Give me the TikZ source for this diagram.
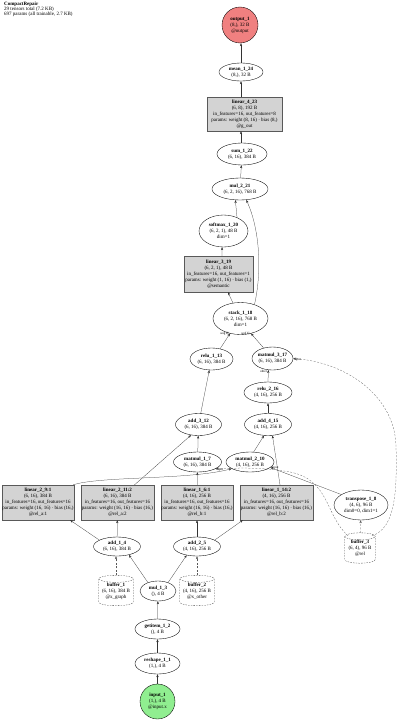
\documentclass[tikz,border=0pt]{standalone}
\usepackage{fontspec}
\setmainfont{Liberation Serif}
\usetikzlibrary{shapes.geometric,arrows.meta,calc}
\newcommand{\zl}[1]{\makebox[0pt][c]{#1}}
\definecolor{lcoral}{RGB}{240,128,128}
\definecolor{lgreen}{RGB}{144,238,144}
\definecolor{lgray}{RGB}{211,211,211}
\tikzset{
 base/.style={draw=black, line width=0.35pt, inner sep=0pt, align=center, font=\fontsize{5}{6}\selectfont},
 op/.style={base, ellipse, fill=white},
 io/.style={base, circle, minimum size=36pt},
 modbox/.style={base, rectangle, fill=lgray, draw=black!65, minimum width=73pt, minimum height=35pt},
 buf/.style={base, rectangle, draw=none, text depth=0pt},
 bufline/.style={line width=0.3pt, draw=black!75, dash pattern=on 1.5pt off 1.2pt},
 e/.style={-{Stealth[length=3pt,width=2.2pt]}, line width=0.25pt, draw=black!80},
 de/.style={e, draw=black!65, dash pattern=on 2pt off 1.5pt},
 el/.style={font=\fontsize{3.3}{3.5}\selectfont, inner sep=0.3pt},
}
\newcommand{\cylbuf}[1]{%
 \draw[bufline] let \p1=(#1.north west), \p2=(#1.south east), \n1={(\x2-\x1)/2} in
 (\x1,\y1-3.5pt) -- (\x1,\y2+3.5pt)
 arc[start angle=180, end angle=360, x radius=\n1, y radius=3.5pt]
 -- (\x2,\y1-3.5pt)
 arc[start angle=0, end angle=360, x radius=\n1, y radius=3.5pt];}
\begin{document}
\begin{tikzpicture}[x=1pt,y=-1pt]
\useasboundingbox (0,0) rectangle (400,720);
\node[anchor=north west, align=left, inner sep=0pt, font=\fontsize{5}{4.9}\selectfont] (title) at (4,2)
 {\textbf{CompactRepair}\\29 tensors total (7.2 KB)\\697 params (all trainable, 2.7 KB)};

% nodes
\node[io, fill=lcoral] (out) at (240,25) {\zl{\textbf{output\_1}}\\\zl{(8,), 32 B}\\\zl{@output}};
\node[op, minimum width=44pt, minimum height=18pt] (mean) at (241,72) {\zl{\textbf{mean\_1\_24}}\\\zl{(8,), 32 B}};
\node[modbox, minimum width=75pt, minimum height=34pt] (lin423) at (244.5,114) {\zl{\textbf{linear\_4\_23}}\\\zl{(6, 8), 192 B}\\\zl{in\_features=16, out\_features=8}\\\zl{params: weight (8, 16) · bias (8,)}\\\zl{@g\_out}};
\node[op, minimum width=50pt, minimum height=22pt] (sum) at (242,154) {\zl{\textbf{sum\_1\_22}}\\\zl{(6, 16), 384 B}};
\node[op, minimum width=56pt, minimum height=22pt] (mul221) at (240,189) {\zl{\textbf{mul\_2\_21}}\\\zl{(6, 2, 16), 768 B}};
\node[op, minimum width=49pt, minimum height=32pt] (soft) at (223.5,231) {\zl{\textbf{softmax\_1\_20}}\\\zl{(6, 2, 1), 48 B}\\\zl{dim=1}};
\node[modbox, minimum width=69pt, minimum height=36pt] (lin319) at (218.5,274) {\zl{\textbf{linear\_3\_19}}\\\zl{(6, 2, 1), 48 B}\\\zl{in\_features=16, out\_features=1}\\\zl{params: weight (1, 16) · bias (1,)}\\\zl{@semantic}};
\node[op, minimum width=55pt, minimum height=32pt] (stack) at (240.5,318.5) {\zl{\textbf{stack\_1\_18}}\\\zl{(6, 2, 16), 768 B}\\\zl{dim=1}};
\node[op, minimum width=43pt, minimum height=22pt] (relu113) at (211.5,359) {\zl{\textbf{relu\_1\_13}}\\\zl{(6, 16), 384 B}};
\node[op, minimum width=41pt, minimum height=23pt] (mm317) at (272.5,358.5) {\zl{\textbf{matmul\_3\_17}}\\\zl{(6, 16), 384 B}};
\node[op, minimum width=48pt, minimum height=21pt] (relu216) at (268,392.5) {\zl{\textbf{relu\_2\_16}}\\\zl{(4, 16), 256 B}};
\node[op, minimum width=47pt, minimum height=22pt] (add415) at (268,424.5) {\zl{\textbf{add\_4\_15}}\\\zl{(4, 16), 256 B}};
\node[op, minimum width=46pt, minimum height=22pt] (add312) at (198.5,424.5) {\zl{\textbf{add\_3\_12}}\\\zl{(6, 16), 384 B}};
\node[op, minimum width=48pt, minimum height=20pt] (mm17) at (197.5,462) {\zl{\textbf{matmul\_1\_7}}\\\zl{(6, 16), 384 B}};
\node[op, minimum width=48pt, minimum height=20pt] (mm210) at (250,462) {\zl{\textbf{matmul\_2\_10}}\\\zl{(4, 16), 256 B}};
\node[modbox, minimum width=72pt] (lin29) at (38,502.5) {\zl{\textbf{linear\_2\_9:1}}\\\zl{(6, 16), 384 B}\\\zl{in\_features=16, out\_features=16}\\\zl{params: weight (16, 16) · bias (16,)}\\\zl{@rel\_a:1}};
\node[modbox] (lin211) at (117.5,502.5) {\zl{\textbf{linear\_2\_11:2}}\\\zl{(6, 16), 384 B}\\\zl{in\_features=16, out\_features=16}\\\zl{params: weight (16, 16) · bias (16,)}\\\zl{@rel\_a:2}};
\node[modbox, minimum width=72pt] (lin16) at (197,502.5) {\zl{\textbf{linear\_1\_6:1}}\\\zl{(4, 16), 256 B}\\\zl{in\_features=16, out\_features=16}\\\zl{params: weight (16, 16) · bias (16,)}\\\zl{@rel\_b:1}};
\node[modbox] (lin114) at (276.5,502.5) {\zl{\textbf{linear\_1\_14:2}}\\\zl{(4, 16), 256 B}\\\zl{in\_features=16, out\_features=16}\\\zl{params: weight (16, 16) · bias (16,)}\\\zl{@rel\_b:2}};
\node[op, minimum width=54pt, minimum height=30pt] (tr18) at (361,505) {\zl{\textbf{transpose\_1\_8}}\\\zl{(4, 6), 96 B}\\\zl{dim0=0, dim1=1}};
\node[buf, minimum width=30pt, minimum height=30pt] (buf3) at (360,548) {\zl{\textbf{buffer\_3}}\\\zl{(6, 4), 96 B}\\\zl{@rel}};
\node[op, minimum width=47pt, minimum height=19pt] (add14) at (117,546.5) {\zl{\textbf{add\_1\_4}}\\\zl{(6, 16), 384 B}};
\node[op, minimum width=47pt, minimum height=19pt] (add25) at (197,546.5) {\zl{\textbf{add\_2\_5}}\\\zl{(4, 16), 256 B}};
\node[buf, minimum width=34pt, minimum height=30pt] (buf1) at (116,590.5) {\zl{\textbf{buffer\_1}}\\\zl{(6, 16), 384 B}\\\zl{@x\_graph}};
\node[buf, minimum width=34pt, minimum height=30pt] (buf2) at (197,590.5) {\zl{\textbf{buffer\_2}}\\\zl{(4, 16), 256 B}\\\zl{@x\_other}};
\node[op, minimum width=36pt, minimum height=20pt] (mul13) at (158,591) {\zl{\textbf{mul\_1\_3}}\\\zl{(), 4 B}};
\node[op, minimum width=45pt, minimum height=20pt] (getitem) at (157.5,629) {\zl{\textbf{getitem\_1\_2}}\\\zl{(), 4 B}};
\node[op, minimum width=45pt, minimum height=21pt] (reshape) at (157.5,663.5) {\zl{\textbf{reshape\_1\_1}}\\\zl{(1,), 4 B}};
\node[io, fill=lgreen, minimum size=35pt] (inp) at (157.5,701.5) {\zl{\textbf{input\_1}}\\\zl{(1,), 4 B}\\\zl{@input.x}};
\cylbuf{buf1}
\cylbuf{buf2}
\cylbuf{buf3}

% edges
\draw[e] (inp) -- (reshape);
\draw[e] (reshape) -- (getitem);
\draw[e] (getitem) -- (mul13);
\draw[e] (mul13.140) -- (add14.-35);
\draw[e] (mul13.40) -- (add25.-140);
\draw[de] (buf1.north) -- (buf1.north |- add14.south);
\draw[de] (buf2) -- (add25);
\draw[e] (add14.160) -- ($(lin29.south east)+(-4,0)$);
\draw[e] (add14) -- (lin211);
\draw[e] (add25) -- (lin16);
\draw[e] (add25.20) -- ($(lin114.south west)+(3,0)$);
\draw[e] (lin16) -- (mm17);
\draw[e] ($(lin211.north)+(17,0)$) -- (add312.235);
\draw[e] (mm17) -- (add312);
\draw[e] ($(lin29.north east)+(-1,0)$) .. controls (100,476) and (190,480) .. (mm210.200);
\draw[de] ($(buf3.north)+(-12,3)$) .. controls (325,515) and (330,480) .. (290,472) .. controls (262,467) and (240,468) .. (mm17.340) node[el, anchor=north west, pos=1, xshift=0pt, yshift=1pt] {input};
\draw[e] (tr18.152) -- (mm210.345) node[el, anchor=south west, pos=1, xshift=1pt, yshift=-2.5pt] {input};
\draw[de] (buf3) -- (tr18);
\draw[e] (mm210.70) -- (add415.250);
\draw[e] ($(lin114.north)+(3.5,0)$) -- (add415.292);
\draw[e] (add312) -- (relu113);
\draw[e] (add415) -- (relu216);
\draw[e] (relu216.north) -- (mm317.250) node[el, anchor=east, pos=1, xshift=-1pt, yshift=-1.5pt] {other};
\draw[de] ($(buf3.north)+(12,3)$) .. controls (396,528) and (397,490) .. (396,445) .. controls (394,395) and (345,362) .. (mm317.east) node[el, anchor=west, pos=1, xshift=0.5pt, yshift=-1.5pt] {input};
\draw[e] (relu113.50) -- (stack.235) node[el, anchor=east, pos=1, xshift=-1pt, yshift=-0.5pt] {seq[0]};
\draw[e] (mm317.130) -- (stack.305) node[el, anchor=east, pos=1, xshift=-1pt, yshift=-0.5pt] {seq[1]};
\draw[e] (stack.116) -- ($(lin319.south)+(9.5,0)$);
\draw[e] ($(lin319.north)+(3.5,0)$) -- (soft.265);
\draw[e] (soft.45) -- (mul221.247);
\draw[e] (stack.45) .. controls (262,272) and (260,230) .. (mul221.300);
\draw[e] (mul221) -- (sum);
\draw[e] (sum.north -| mean.south) -- (lin423.south -| mean.south);
\draw[e] (lin423.north -| mean.south) -- (mean.south);
\draw[e] (mean.north) -- (out.south -| mean.north);
\end{tikzpicture}
\end{document}
